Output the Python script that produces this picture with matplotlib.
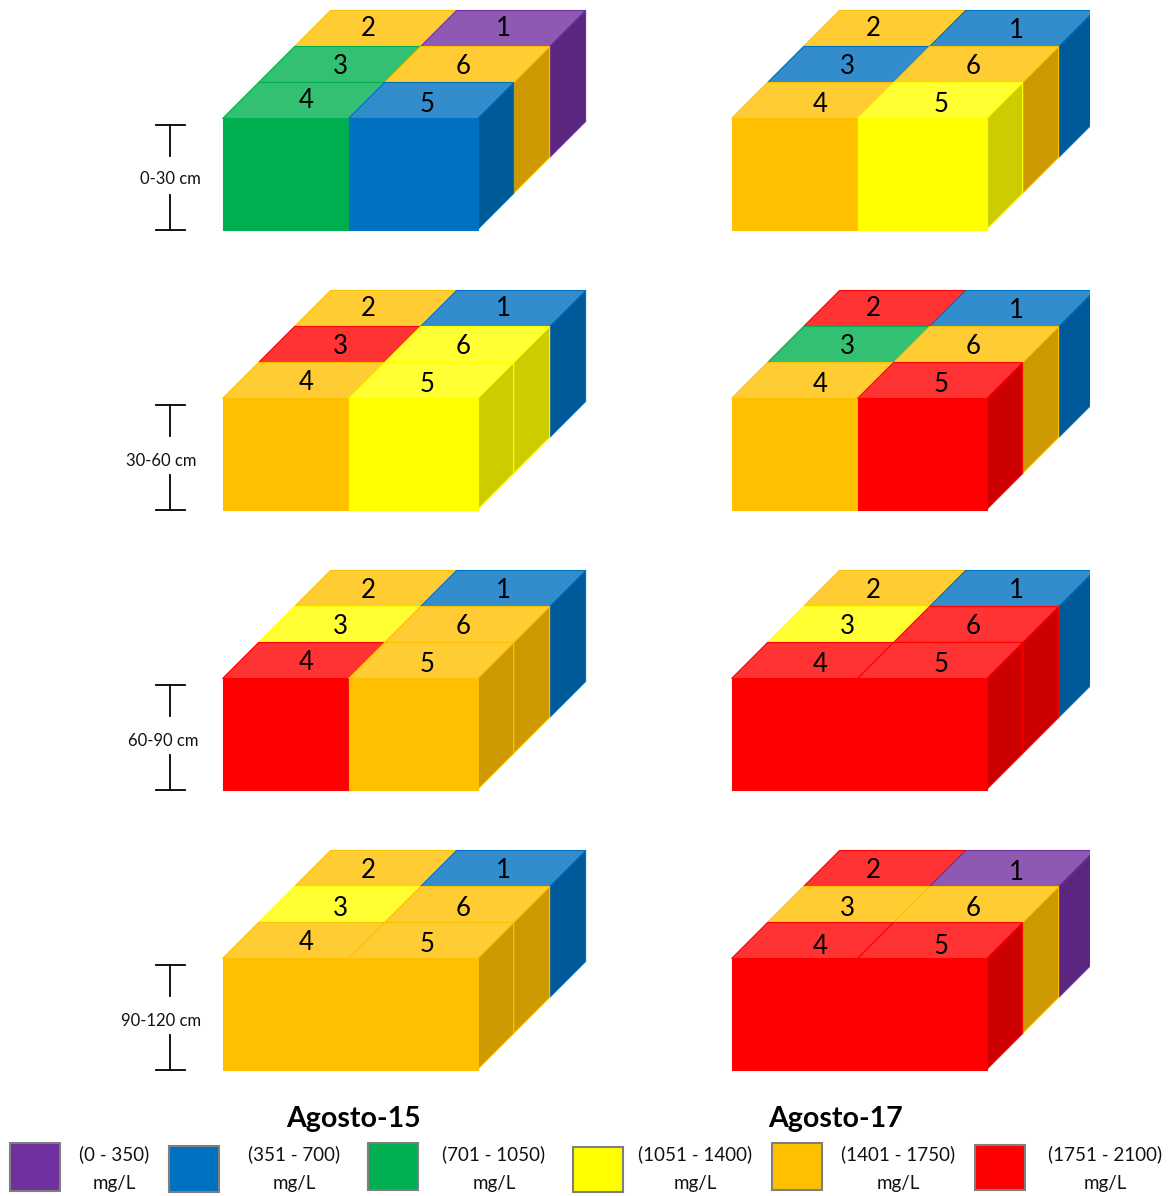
import matplotlib
matplotlib.use("Agg")
import matplotlib.pyplot as plt
from matplotlib.patches import Polygon, Rectangle
from matplotlib.colors import to_rgb

# class colours
colors = ["#7030A0", "#0070C0", "#00B050", "#FFFF00", "#FFC000", "#FF0000"]
ranges = ["(0 - 350)", "(351 - 700)", "(701 - 1050)", "(1051 - 1400)", "(1401 - 1750)", "(1751 - 2100)"]
P, B, G, Y, O, R = 0, 1, 2, 3, 4, 5

depths = ["0-30 cm", "30-60 cm", "60-90 cm", "90-120 cm"]
panels = ["Agosto-15", "Agosto-17"]

# class of plots 1..6 per depth
ago15_d1 = [P, O, G, G, B, O]
ago15_d2 = [B, O, R, O, Y, Y]
ago15_d3 = [B, O, Y, R, O, O]
ago15_d4 = [B, O, Y, O, O, O]
ago17_d1 = [B, O, B, O, Y, O]
ago17_d2 = [B, R, G, O, R, O]
ago17_d3 = [B, O, Y, R, R, R]
ago17_d4 = [P, R, O, R, R, O]
ago15 = [ago15_d1, ago15_d2, ago15_d3, ago15_d4]
ago17 = [ago17_d1, ago17_d2, ago17_d3, ago17_d4]

# plot number -> (column, row from the front)
cells = {2: (0, 2), 1: (1, 2), 3: (0, 1), 6: (1, 1), 4: (0, 0), 5: (1, 0)}
widths = [126, 129]
step = 36
height = 111

# label positions relative to the block, they were placed by hand in the original
label_x = [{1: 280, 2: 145, 3: 117, 4: 83, 5: 204, 6: 240},
           {1: 284, 2: 141, 3: 115, 4: 88, 5: 209, 6: 241}]
label_dy = [[{1: 29, 2: 29, 3: 66, 4: 101, 5: 104, 6: 66},
             {1: 29, 2: 29, 3: 67, 4: 102, 5: 104, 6: 67},
             {1: 30, 2: 30, 3: 67, 4: 102, 5: 105, 6: 67},
             {1: 30, 2: 30, 3: 68, 4: 102, 5: 105, 6: 68}],
            [{1: 30, 2: 29, 3: 66, 4: 104, 5: 104, 6: 66},
             {1: 31, 2: 29, 3: 67, 4: 104, 5: 104, 6: 67},
             {1: 31, 2: 30, 3: 67, 4: 105, 5: 105, 6: 67},
             {1: 32, 2: 30, 3: 68, 4: 106, 5: 106, 6: 68}]]

depth_x = [170, 161, 163, 161]
depth_dy = [169, 171, 171, 171]
panel_x = [222.6, 731.6]
row_top = [10, 290, 570, 850]

swatch_x = [10, 169, 368, 573, 772, 975]
swatch_y = [1143, 1146, 1143, 1147, 1143, 1145]
swatch_h = [48, 46, 47, 45, 47, 45]
legend_x = [114, 294, 494, 695, 898, 1105]

font = "Lato"
fig = plt.figure(figsize=(11.71, 11.96), dpi=100)
ax = fig.add_axes([0, 0, 1, 1])
ax.set_xlim(0, 1171)
ax.set_ylim(1196, 0)
ax.axis("off")


def shade(c, k):
    return tuple(v * k for v in to_rgb(c))


def tint(c, k):
    return tuple(v + (1 - v) * k for v in to_rgb(c))


clip = Rectangle((0, 0), 1090, 1196, transform=ax.transData)


def face(pts, fill, edge, z):
    p = Polygon(pts, closed=True, facecolor=fill, edgecolor=edge, linewidth=0.8, zorder=z, joinstyle="miter")
    ax.add_patch(p)
    p.set_clip_path(clip)


def draw_block(x0, top, data):
    front_y = top + 3 * step
    z = 2
    for num, (col, row) in cells.items():
        c = colors[data[num - 1]]
        x = x0 + (widths[0] if col else 0) + row * step
        y = front_y - row * step
        w = widths[col]
        # side is only seen on the right column
        if col == 1:
            face([(x + w, y), (x + w + step, y - step), (x + w + step, y - step + height), (x + w, y + height)],
                 shade(c, 0.8), c, z)
        face([(x, y), (x + w, y), (x + w + step, y - step), (x + step, y - step)], tint(c, 0.2), c, z + 1)
        if row == 0:
            face([(x, y), (x + w, y), (x + w, y + height), (x, y + height)], c, c, z + 1)
        z += 2


for j, data in enumerate([ago15, ago17]):
    for i, top in enumerate(row_top):
        draw_block(panel_x[j], top + 0.5, data[i])
        for num in cells:
            ax.text(round(panel_x[j]) + label_x[j][num], top - 10 + label_dy[j][i][num], str(num), fontsize=18.5, family=font,
                    ha="center", va="center", color="black", zorder=30)

# depth brackets
for i, top in enumerate(row_top):
    y1 = top + 114.5
    y2 = top + 220
    ax.plot([156, 185], [y1, y1], color="black", lw=1.3)
    ax.plot([170, 170], [y1, y1 + 31], color="black", lw=1.3)
    ax.plot([170, 170], [y2 - 35, y2], color="black", lw=1.3)
    ax.plot([156, 185], [y2, y2], color="black", lw=1.3)
    ax.text(depth_x[i], top + depth_dy[i], depths[i], fontsize=12, family=font, ha="center", va="center", color="#111111")

# titles and legend
ax.text(353, 1119, panels[0], fontsize=20.5, family=font, fontweight="bold", ha="center", va="center")
ax.text(836, 1119, panels[1], fontsize=20.5, family=font, fontweight="bold", ha="center", va="center")
for k in range(len(colors)):
    ax.add_patch(Rectangle((swatch_x[k], swatch_y[k]), 50, swatch_h[k], facecolor=colors[k],
                           edgecolor="#7F7F7F", linewidth=1.5))
    ax.text(legend_x[k], 1154, ranges[k], fontsize=13.5, family=font, ha="center", va="center", color="#111111")
    ax.text(legend_x[k], 1183, "mg/L", fontsize=13.5, family=font, ha="center", va="center", color="#111111")

fig.savefig("out.png", dpi=100)
